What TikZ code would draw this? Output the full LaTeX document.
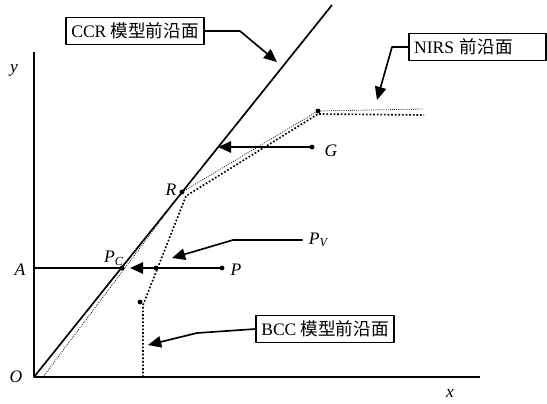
\documentclass[tikz,border=0pt]{standalone}
\usepackage{fontspec}
\setmainfont{Liberation Serif}
\newfontfamily\cjk{Noto Sans CJK SC}
\usetikzlibrary{arrows.meta}
\newcommand{\pt}[1]{\textit{#1}}
\begin{document}
\begin{tikzpicture}[x=0.02cm, y=-0.02cm, >={Triangle[length=7.5pt,width=6.5pt]}, line join=round,
	every node/.style={font=\fontsize{10}{12}\selectfont},
	axis/.style={line width=0.95pt},
	labelbox/.style={draw, line width=0.9pt, inner sep=3pt},
	nirs/.style={line width=0.45pt, dash pattern=on 0.45pt off 0.75pt},
	bcc/.style={line width=0.95pt, dash pattern=on 0.95pt off 1.1pt}]
	
	\useasboundingbox (0,0) rectangle (547,403);
	
	% axes
	\coordinate (O) at (34,377);
	\coordinate (ytop) at (34,52);
	\coordinate (xend) at (480,377);
	\draw[axis] (ytop) -- (O) -- (xend);
	\node (ylbl) at (14,70) {\pt{y}};
	\node (xlbl) at (450,393) {\pt{x}};
	\node (olbl) at (16,377) {\pt{O}};
	
	% points
	\coordinate (A) at (34,268);
	\coordinate (R) at (182,192);
	\coordinate (PC) at (122,268);
	\coordinate (PV) at (156,268);
	\coordinate (P) at (222,268);
	\coordinate (G) at (312,147);
	\coordinate (K) at (318,111);
	\coordinate (B) at (140,302);
	
	% CCR frontier
	\coordinate (ccrtop) at (332,5);
	\draw[axis] (O) -- (ccrtop);
	
	% NIRS frontier
	\draw[nirs] (43,377) -- (R) -- (K) -- (423,109);
	
	% BCC frontier
	\draw[bcc] (143,377) -- (143,305) -- (186,196) -- (318,114) -- (424,115);
	
	% projections
	\coordinate (ptip) at (130,268);
	\coordinate (gtip) at (218,147);
	\draw[axis] (A) -- (PC);
	\draw[axis, ->] (P) -- (ptip);
	\draw[axis, ->] (G) -- (gtip);
	
	\foreach \p in {R, PC, PV, P, G, K, B} {
		\fill (\p) circle (1.4pt);
	}
	
	\node (albl) at (20,270) {\pt{A}};
	\node (rlbl) at (171,190) {\pt{R}};
	\node (pclbl) at (114,258) {\pt{P}\textsubscript{\pt{C}}};
	\node (plbl) at (236,270) {\pt{P}};
	\node (glbl) at (331,151) {\pt{G}};
	\node (pvlbl) at (319,240) {\pt{P}\textsubscript{\pt{V}}};
	
	% pointers
	\coordinate (pvtip) at (172,258);
	\draw[axis, ->] (pvlbl.west) -- (233,240) -- (pvtip);
	
	\node[labelbox] (ccrbox) at (135,31) {CCR {\cjk 模型前沿面}};
	\coordinate (ccrtip) at (277,62);
	\draw[axis, ->] (ccrbox.east) -- (240,31) -- (ccrtip);
	
	\node[labelbox, anchor=west, text width=72pt] (nirsbox) at (408,47) {NIRS {\cjk 前沿面}};
	\coordinate (nirstip) at (377,100);
	\draw[axis, ->] (nirsbox.west) -- (392,47) -- (nirstip);
	
	\node[labelbox] (bccbox) at (325,329) {BCC {\cjk 模型前沿面}};
	\coordinate (bcctip) at (148,345);
	\draw[axis, ->] (bccbox.west) -- (197,333) -- (bcctip);
	
\end{tikzpicture}
\end{document}
